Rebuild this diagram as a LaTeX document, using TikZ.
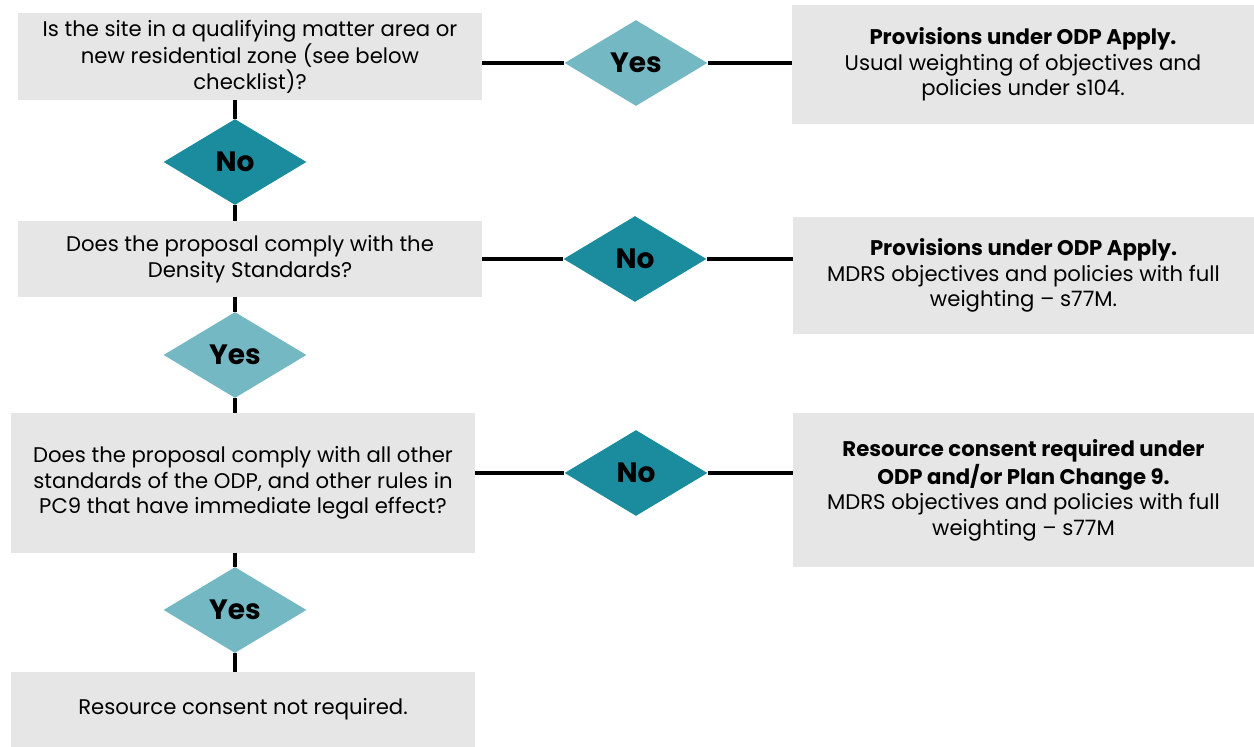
\documentclass[tikz,border=0pt]{standalone}
\usepackage{fontspec}
\setmainfont{Poppins}
\usetikzlibrary{shapes.geometric}
\definecolor{mgrey}{HTML}{E6E6E6}
\definecolor{mdark}{HTML}{1B8C9E}
\definecolor{mlight}{HTML}{74B8C4}
\tikzset{box/.style = {fill = mgrey, align = center, inner sep = 0, minimum width = 232pt, font = \fontsize{10.6}{12.75}\selectfont}}
\tikzset{dia/.style = {diamond, inner sep = 0, minimum width = 71.5pt, minimum height = 43pt, font = \fontsize{14}{14}\selectfont\bfseries}}
\tikzset{link/.style = {line width = 1.9pt}}

\begin{document}
\begin{tikzpicture}[x = 0.5pt, y = -0.5pt]
    \useasboundingbox (0, 0) rectangle (1254, 747);

    \node [box, minimum height = 43.5pt] (q1) at (250, 56.5) {Is the site in a qualifying matter area or\\new residential zone (see below\\checklist)?};
    \node [box, minimum height = 38pt] (q2) at (250, 259) {Does the proposal comply with the\\Density Standards?};
    \node [box, minimum height = 70pt] (q3) at (243, 483) {Does the proposal comply with all other\\standards of the ODP, and other rules in\\PC9 that have immediate legal effect?};
    \node [box, minimum height = 37.5pt] (q4) at (243, 709.5) {Resource consent not required.};

    \node [box, minimum width = 231pt, minimum height = 59.5pt] (r1) at (1023, 64.5) {\textbf{Provisions under ODP Apply.}\\Usual weighting of objectives and\\policies under s104.};
    \node [box, minimum width = 230.5pt, minimum height = 58.5pt] (r2) at (1023.5, 275.5) {\textbf{Provisions under ODP Apply.}\\MDRS objectives and policies with full\\weighting -- s77M.};
    \node [box, minimum width = 230.5pt, minimum height = 77pt] (r3) at (1023.5, 490) {\textbf{Resource consent required under}\\\textbf{ODP and/or Plan Change 9.}\\MDRS objectives and policies with full\\weighting -- s77M};

    \node [dia, fill = mlight] (yes1) at (636, 63) {Yes};
    \node [dia, fill = mdark] (no1) at (235, 162) {No};
    \node [dia, fill = mdark] (no2) at (635, 259) {No};
    \node [dia, fill = mlight] (yes2) at (235, 355) {Yes};
    \node [dia, fill = mdark] (no3) at (636, 473) {No};
    \node [dia, fill = mlight] (yes3) at (235, 610) {Yes};

    \draw [link] (yes1.west -| q1.east) -- (yes1.west);
    \draw [link] (yes1.east) -- (yes1.east -| r1.west);
    \draw [link] (no2.west -| q2.east) -- (no2.west);
    \draw [link] (no2.east) -- (no2.east -| r2.west);
    \draw [link] (no3.west -| q3.east) -- (no3.west);
    \draw [link] (no3.east) -- (no3.east -| r3.west);

    \draw [link] (no1.north |- q1.south) -- (no1.north);
    \draw [link] (no1.south) -- (no1.south |- q2.north);
    \draw [link] (yes2.north |- q2.south) -- (yes2.north);
    \draw [link] (yes2.south) -- (yes2.south |- q3.north);
    \draw [link] (yes3.north |- q3.south) -- (yes3.north);
    \draw [link] (yes3.south) -- (yes3.south |- q4.north);
  \end{tikzpicture}
\end{document}
